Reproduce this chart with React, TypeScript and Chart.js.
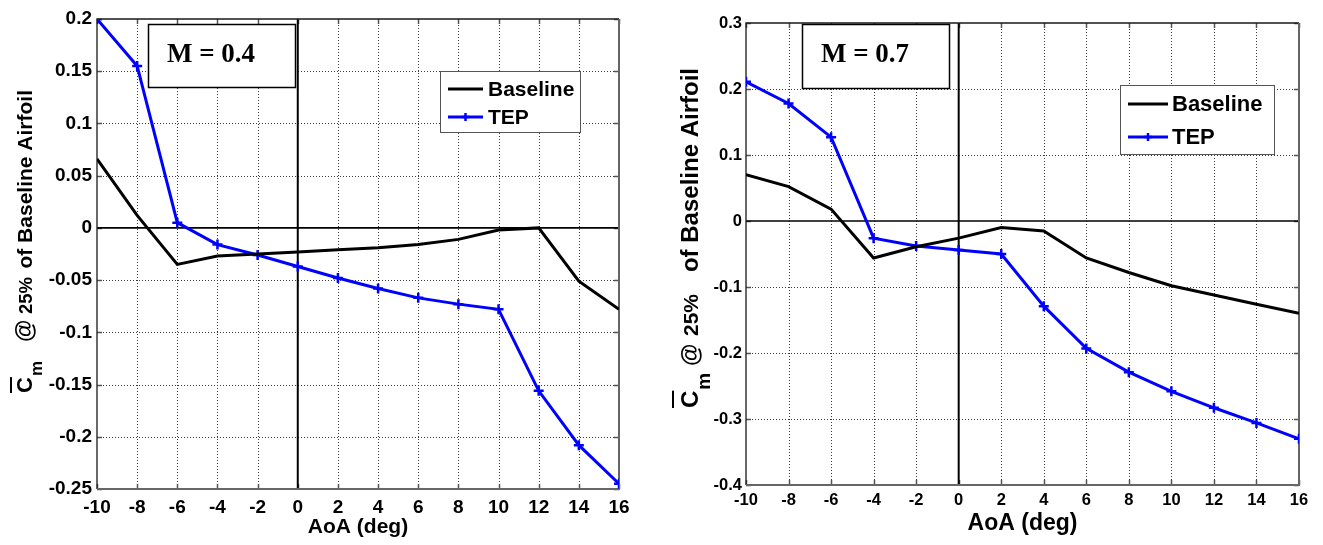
import React, { useEffect, useRef } from "react";
import { Chart, registerables } from "chart.js";

Chart.register(...registerables);

// ---------- data ----------
const aoa = [-10, -8, -6, -4, -2, 0, 2, 4, 6, 8, 10, 12, 14, 16];
const xTicks = [-10, -8, -6, -4, -2, 0, 2, 4, 6, 8, 10, 12, 14, 16];

const baselineM04 = [0.066, 0.012, -0.035, -0.027, -0.025, -0.023, -0.021, -0.019, -0.016, -0.011, -0.002, 0.0, -0.051, -0.078];
const tepM04 = [0.2, 0.155, 0.005, -0.016, -0.026, -0.037, -0.048, -0.058, -0.067, -0.073, -0.078, -0.156, -0.208, -0.245];
const yTicksM04 = [-0.25, -0.2, -0.15, -0.1, -0.05, 0, 0.05, 0.1, 0.15, 0.2];

const baselineM07 = [0.07, 0.052, 0.018, -0.056, -0.039, -0.026, -0.01, -0.015, -0.056, -0.078, -0.098, -0.112, -0.126, -0.14];
const tepM07 = [0.211, 0.178, 0.127, -0.026, -0.038, -0.044, -0.05, -0.129, -0.193, -0.229, -0.258, -0.283, -0.306, -0.33];
const yTicksM07 = [-0.4, -0.3, -0.2, -0.1, 0, 0.1, 0.2, 0.3];

const seriesLabels = ["Baseline", "TEP"];
const machLabels = ["M = 0.4", "M = 0.7"];
const xTitle = "AoA (deg)";
const yTitleParts = ["C", "m", "@", "25%", "of Baseline Airfoil"];

const SANS = '"Liberation Sans", Arial, Helvetica, sans-serif';
const SERIF = '"Liberation Serif", "Times New Roman", serif';

type Layout = {
  left: number;
  width: number;
  height: number;
  plotLeft: number;
  plotRight: number;
  plotTop: number;
  plotBottom: number;
  tickFont: number;
  xTickPad: number;
  yTickPad: number;
  xTitleFont: number;
  xTitlePadBottom: number;
  yTitle: {
    baseX: number;
    startY: number;
    cFont: number;
    mFont: number;
    mShift: number;
    overX: number;
    atFont: number;
    atStart: number;
    pctFont: number;
    pctStart: number;
    restFont: number;
    restEnd: number;
  };
  box: { x0: number; x1: number; y0: number; y1: number; font: number; textX: number; baseY: number };
  legend: {
    x0: number; x1: number; y0: number; y1: number;
    lineX0: number; lineX1: number; textX: number; rows: number[]; font: number;
  };
};

const layoutLeft: Layout = {
  left: 0,
  width: 640,
  height: 545,
  plotLeft: 97,
  plotRight: 619,
  plotTop: 19,
  plotBottom: 489,
  tickFont: 19,
  xTickPad: 7,
  yTickPad: 5,
  xTitleFont: 21,
  xTitlePadBottom: 5,
  yTitle: {
    baseX: 32, startY: 393, cFont: 22, mFont: 17, mShift: 10, overX: 11,
    atFont: 23, atStart: 342, pctFont: 18.5, pctStart: 314, restFont: 21, restEnd: 90,
  },
  box: { x0: 148, x1: 295, y0: 24, y1: 87, font: 27, textX: 211, baseY: 62 },
  legend: { x0: 440, x1: 580, y0: 71, y1: 132, lineX0: 448, lineX1: 483, textX: 488, rows: [89, 117], font: 21 },
};

const layoutRight: Layout = {
  left: 640,
  width: 683,
  height: 545,
  plotLeft: 106,
  plotRight: 659,
  plotTop: 23,
  plotBottom: 485,
  tickFont: 16.5,
  xTickPad: 6,
  yTickPad: 4,
  xTitleFont: 23,
  xTitlePadBottom: 8,
  yTitle: {
    baseX: 58, startY: 408, cFont: 24, mFont: 19, mShift: 12, overX: 33,
    atFont: 23, atStart: 366, pctFont: 21, pctStart: 336, restFont: 24, restEnd: 68,
  },
  box: { x0: 162, x1: 309, y0: 24, y1: 88, font: 27, textX: 225, baseY: 62 },
  legend: { x0: 480, x1: 634, y0: 85, y1: 154, lineX0: 488, lineX1: 528, textX: 532, rows: [104, 137], font: 22 },
};

function fmt(v: number): string {
  return String(Number(v.toFixed(2)));
}

function drawCross(ctx: CanvasRenderingContext2D, x: number, y: number, r: number) {
  ctx.beginPath();
  ctx.moveTo(x - r, y);
  ctx.lineTo(x + r, y);
  ctx.moveTo(x, y - r);
  ctx.lineTo(x, y + r);
  ctx.stroke();
}

function makePlugin(L: Layout, mach: string) {
  return {
    id: "matlabFrame",
    beforeDatasetsDraw(chart: any) {
      const { ctx, chartArea: a, scales } = chart;
      const xs = scales.x;
      const ys = scales.y;
      ctx.save();
      // dotted grid
      ctx.strokeStyle = "#3a3a3a";
      ctx.lineWidth = 1;
      ctx.setLineDash([1, 2]);
      xs.ticks.forEach((t: any) => {
        if (t.value === xs.min || t.value === xs.max || t.value === 0) return;
        const px = Math.round(xs.getPixelForValue(t.value)) + 0.5;
        ctx.beginPath();
        ctx.moveTo(px, a.top);
        ctx.lineTo(px, a.bottom);
        ctx.stroke();
      });
      ys.ticks.forEach((t: any) => {
        if (t.value === ys.min || t.value === ys.max || t.value === 0) return;
        const py = Math.round(ys.getPixelForValue(t.value)) + 0.5;
        ctx.beginPath();
        ctx.moveTo(a.left, py);
        ctx.lineTo(a.right, py);
        ctx.stroke();
      });
      ctx.setLineDash([]);
      // inward tick marks
      ctx.strokeStyle = "#555";
      ctx.lineWidth = 1.5;
      const tl = 5;
      xs.ticks.forEach((t: any) => {
        const px = Math.round(xs.getPixelForValue(t.value)) + 0.5;
        ctx.beginPath();
        ctx.moveTo(px, a.bottom);
        ctx.lineTo(px, a.bottom - tl);
        ctx.moveTo(px, a.top);
        ctx.lineTo(px, a.top + tl);
        ctx.stroke();
      });
      ys.ticks.forEach((t: any) => {
        const py = Math.round(ys.getPixelForValue(t.value)) + 0.5;
        ctx.beginPath();
        ctx.moveTo(a.left, py);
        ctx.lineTo(a.left + tl, py);
        ctx.moveTo(a.right, py);
        ctx.lineTo(a.right - tl, py);
        ctx.stroke();
      });
      // zero lines
      ctx.strokeStyle = "#000";
      ctx.lineWidth = 1.6;
      const y0 = ys.getPixelForValue(0);
      ctx.beginPath();
      ctx.moveTo(a.left, y0);
      ctx.lineTo(a.right, y0);
      ctx.stroke();
      ctx.lineWidth = 2;
      const x0 = xs.getPixelForValue(0);
      ctx.beginPath();
      ctx.moveTo(x0, a.top);
      ctx.lineTo(x0, a.bottom);
      ctx.stroke();
      // frame
      ctx.lineWidth = 1.3;
      ctx.strokeStyle = "#1a1a1a";
      ctx.beginPath();
      ctx.moveTo(a.left, a.bottom);
      ctx.lineTo(a.left, a.top);
      ctx.lineTo(a.right, a.top);
      ctx.stroke();
      ctx.lineWidth = 2;
      ctx.strokeStyle = "#666";
      ctx.beginPath();
      ctx.moveTo(a.left, a.bottom);
      ctx.lineTo(a.right, a.bottom);
      ctx.lineTo(a.right, a.top);
      ctx.stroke();
      ctx.restore();
    },
    afterDatasetsDraw(chart: any) {
      const { ctx } = chart;
      ctx.save();
      // Mach text box
      const b = L.box;
      ctx.fillStyle = "#fff";
      ctx.fillRect(b.x0, b.y0, b.x1 - b.x0, b.y1 - b.y0);
      ctx.strokeStyle = "#000";
      ctx.lineWidth = 1.5;
      ctx.strokeRect(b.x0 + 0.5, b.y0 + 0.5, b.x1 - b.x0, b.y1 - b.y0);
      ctx.fillStyle = "#000";
      ctx.font = `bold ${b.font}px ${SERIF}`;
      ctx.textAlign = "center";
      ctx.textBaseline = "alphabetic";
      ctx.fillText(mach, b.textX, b.baseY);

      // legend
      const g = L.legend;
      ctx.fillStyle = "#fff";
      ctx.fillRect(g.x0, g.y0, g.x1 - g.x0, g.y1 - g.y0);
      ctx.strokeStyle = "#555";
      ctx.lineWidth = 1;
      ctx.strokeRect(g.x0 + 0.5, g.y0 + 0.5, g.x1 - g.x0, g.y1 - g.y0);
      chart.data.datasets.forEach((ds: any, i: number) => {
        const ry = g.rows[i];
        ctx.strokeStyle = ds.borderColor;
        ctx.lineWidth = 3;
        ctx.beginPath();
        ctx.moveTo(g.lineX0, ry);
        ctx.lineTo(g.lineX1, ry);
        ctx.stroke();
        if (ds.pointRadius > 0) {
          ctx.lineWidth = 2.5;
          drawCross(ctx, (g.lineX0 + g.lineX1) / 2, ry, 4);
        }
        ctx.fillStyle = "#000";
        ctx.font = `bold ${g.font}px ${SANS}`;
        ctx.textAlign = "left";
        ctx.textBaseline = "middle";
        ctx.fillText(ds.label, g.textX, ry + 1);
      });

      // y title (rotated, with overlined C and subscript m)
      const t = L.yTitle;
      ctx.fillStyle = "#000";
      ctx.textAlign = "left";
      ctx.textBaseline = "alphabetic";
      ctx.save();
      ctx.translate(t.baseX, 0);
      ctx.rotate(-Math.PI / 2);
      ctx.font = `bold ${t.cFont}px ${SANS}`;
      const cW = ctx.measureText(yTitleParts[0]).width;
      ctx.fillText(yTitleParts[0], -t.startY, 0);
      ctx.fillRect(-t.startY, t.overX - t.baseX - 1, cW, 2);
      ctx.font = `bold ${t.mFont}px ${SANS}`;
      ctx.fillText(yTitleParts[1], -t.startY + cW + 1, t.mShift);
      ctx.font = `bold ${t.atFont}px ${SANS}`;
      ctx.fillText(yTitleParts[2], -t.atStart, 0);
      ctx.font = `bold ${t.pctFont}px ${SANS}`;
      ctx.fillText(yTitleParts[3], -t.pctStart, 0);
      ctx.font = `bold ${t.restFont}px ${SANS}`;
      ctx.textAlign = "right";
      ctx.fillText(yTitleParts[4], -t.restEnd, 0);
      ctx.restore();
      ctx.restore();
    },
  };
}

function Panel({ L, baseline, tep, yTicks, mach }: { L: Layout; baseline: number[]; tep: number[]; yTicks: number[]; mach: string }) {
  const ref = useRef<HTMLCanvasElement | null>(null);
  useEffect(() => {
    if (!ref.current) return;
    const yAxisWidth = L.plotLeft;
    const xAxisHeight = L.height - L.plotBottom;
    const chart = new Chart(ref.current, {
      type: "line",
      data: {
        datasets: [
          {
            label: seriesLabels[0],
            data: aoa.map((x, i) => ({ x, y: baseline[i] })),
            borderColor: "#000000",
            backgroundColor: "#000000",
            borderWidth: 3,
            pointRadius: 0,
            tension: 0,
          },
          {
            label: seriesLabels[1],
            data: aoa.map((x, i) => ({ x, y: tep[i] })),
            borderColor: "#0000ff",
            backgroundColor: "#0000ff",
            borderWidth: 3,
            pointStyle: "cross",
            pointRadius: 5,
            pointBorderWidth: 2.5,
            pointBorderColor: "#0000ff",
            tension: 0,
          },
        ],
      },
      options: {
        responsive: false,
        devicePixelRatio: 1,
        animation: false,
        layout: { padding: { left: 0, top: L.plotTop, right: L.width - L.plotRight, bottom: 0 } },
        plugins: { legend: { display: false }, tooltip: { enabled: false } },
        scales: {
          x: {
            type: "linear",
            min: xTicks[0],
            max: xTicks[xTicks.length - 1],
            grid: { display: false, drawTicks: false },
            border: { display: false },
            afterBuildTicks: (s: any) => {
              s.ticks = xTicks.map((v) => ({ value: v }));
            },
            afterFit: (s: any) => {
              s.height = xAxisHeight;
            },
            ticks: {
              autoSkip: false,
              maxRotation: 0,
              padding: L.xTickPad,
              color: "#000",
              font: { family: SANS, size: L.tickFont, weight: "bold" },
              callback: (v: any) => fmt(Number(v)),
            },
            title: {
              display: true,
              text: xTitle,
              color: "#000",
              font: { family: SANS, size: L.xTitleFont, weight: "bold" },
              padding: { top: 0, bottom: L.xTitlePadBottom },
            },
          },
          y: {
            type: "linear",
            min: yTicks[0],
            max: yTicks[yTicks.length - 1],
            grid: { display: false, drawTicks: false },
            border: { display: false },
            afterBuildTicks: (s: any) => {
              s.ticks = yTicks.map((v) => ({ value: v }));
            },
            afterFit: (s: any) => {
              s.width = yAxisWidth;
            },
            ticks: {
              autoSkip: false,
              padding: L.yTickPad,
              color: "#000",
              font: { family: SANS, size: L.tickFont, weight: "bold" },
              callback: (v: any) => fmt(Number(v)),
            },
          },
        },
      },
      plugins: [makePlugin(L, mach)],
    } as any);
    return () => chart.destroy();
  }, []);
  return (
    <canvas
      ref={ref}
      width={L.width}
      height={L.height}
      style={{ position: "absolute", left: L.left, top: 0, width: L.width, height: L.height }}
    />
  );
}

export default function App() {
  return (
    <div style={{ position: "absolute", left: 0, top: 0, width: 1323, height: 545, background: "#fff" }}>
      <Panel L={layoutLeft} baseline={baselineM04} tep={tepM04} yTicks={yTicksM04} mach={machLabels[0]} />
      <Panel L={layoutRight} baseline={baselineM07} tep={tepM07} yTicks={yTicksM07} mach={machLabels[1]} />
    </div>
  );
}
